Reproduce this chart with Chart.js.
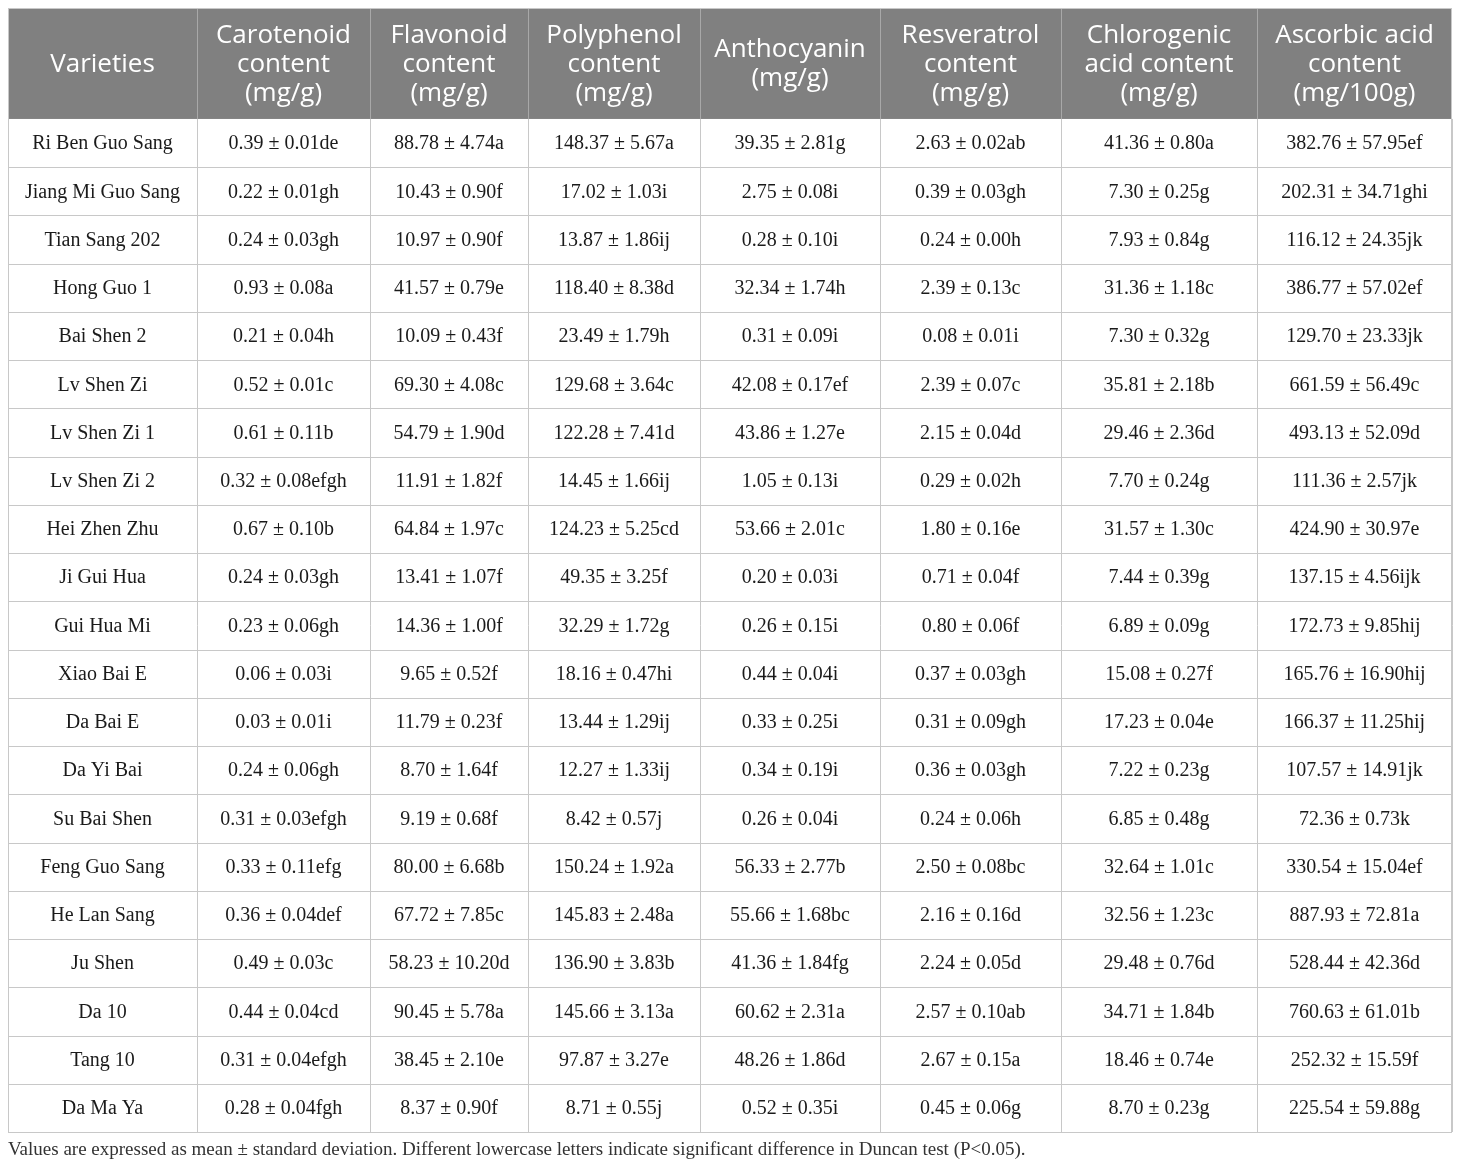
<!DOCTYPE html>
<html>
<head>
<meta charset="utf-8">
<script src="https://cdn.jsdelivr.net/npm/chart.js@4.4.1/dist/chart.umd.min.js"></script>
<style>
  html, body { margin: 0; padding: 0; background: #ffffff; }
  #wrap { width: 1460px; height: 1169px; position: relative; }
</style>
</head>
<body>
<div id="wrap"><canvas id="c"></canvas></div>
<script>
// ---------- DATA ----------
const varieties = ["Ri Ben Guo Sang","Jiang Mi Guo Sang","Tian Sang 202","Hong Guo 1","Bai Shen 2","Lv Shen Zi","Lv Shen Zi 1","Lv Shen Zi 2","Hei Zhen Zhu","Ji Gui Hua","Gui Hua Mi","Xiao Bai E","Da Bai E","Da Yi Bai","Su Bai Shen","Feng Guo Sang","He Lan Sang","Ju Shen","Da 10","Tang 10","Da Ma Ya"];

const headerVarieties = ["Varieties"];
const headerCarotenoid = ["Carotenoid","content","(mg/g)"];
const headerFlavonoid = ["Flavonoid","content","(mg/g)"];
const headerPolyphenol = ["Polyphenol","content","(mg/g)"];
const headerAnthocyanin = ["Anthocyanin","(mg/g)"];
const headerResveratrol = ["Resveratrol","content","(mg/g)"];
const headerChlorogenic = ["Chlorogenic","acid content","(mg/g)"];
const headerAscorbic = ["Ascorbic acid","content","(mg/100g)"];

const carotenoidMean = [0.39,0.22,0.24,0.93,0.21,0.52,0.61,0.32,0.67,0.24,0.23,0.06,0.03,0.24,0.31,0.33,0.36,0.49,0.44,0.31,0.28];
const carotenoidSD   = [0.01,0.01,0.03,0.08,0.04,0.01,0.11,0.08,0.10,0.03,0.06,0.03,0.01,0.06,0.03,0.11,0.04,0.03,0.04,0.04,0.04];
const carotenoidSig  = ["de","gh","gh","a","h","c","b","efgh","b","gh","gh","i","i","gh","efgh","efg","def","c","cd","efgh","fgh"];

const flavonoidMean = [88.78,10.43,10.97,41.57,10.09,69.30,54.79,11.91,64.84,13.41,14.36,9.65,11.79,8.70,9.19,80.00,67.72,58.23,90.45,38.45,8.37];
const flavonoidSD   = [4.74,0.90,0.90,0.79,0.43,4.08,1.90,1.82,1.97,1.07,1.00,0.52,0.23,1.64,0.68,6.68,7.85,10.20,5.78,2.10,0.90];
const flavonoidSig  = ["a","f","f","e","f","c","d","f","c","f","f","f","f","f","f","b","c","d","a","e","f"];

const polyphenolMean = [148.37,17.02,13.87,118.40,23.49,129.68,122.28,14.45,124.23,49.35,32.29,18.16,13.44,12.27,8.42,150.24,145.83,136.90,145.66,97.87,8.71];
const polyphenolSD   = [5.67,1.03,1.86,8.38,1.79,3.64,7.41,1.66,5.25,3.25,1.72,0.47,1.29,1.33,0.57,1.92,2.48,3.83,3.13,3.27,0.55];
const polyphenolSig  = ["a","i","ij","d","h","c","d","ij","cd","f","g","hi","ij","ij","j","a","a","b","a","e","j"];

const anthocyaninMean = [39.35,2.75,0.28,32.34,0.31,42.08,43.86,1.05,53.66,0.20,0.26,0.44,0.33,0.34,0.26,56.33,55.66,41.36,60.62,48.26,0.52];
const anthocyaninSD   = [2.81,0.08,0.10,1.74,0.09,0.17,1.27,0.13,2.01,0.03,0.15,0.04,0.25,0.19,0.04,2.77,1.68,1.84,2.31,1.86,0.35];
const anthocyaninSig  = ["g","i","i","h","i","ef","e","i","c","i","i","i","i","i","i","b","bc","fg","a","d","i"];

const resveratrolMean = [2.63,0.39,0.24,2.39,0.08,2.39,2.15,0.29,1.80,0.71,0.80,0.37,0.31,0.36,0.24,2.50,2.16,2.24,2.57,2.67,0.45];
const resveratrolSD   = [0.02,0.03,0.00,0.13,0.01,0.07,0.04,0.02,0.16,0.04,0.06,0.03,0.09,0.03,0.06,0.08,0.16,0.05,0.10,0.15,0.06];
const resveratrolSig  = ["ab","gh","h","c","i","c","d","h","e","f","f","gh","gh","gh","h","bc","d","d","ab","a","g"];

const chlorogenicMean = [41.36,7.30,7.93,31.36,7.30,35.81,29.46,7.70,31.57,7.44,6.89,15.08,17.23,7.22,6.85,32.64,32.56,29.48,34.71,18.46,8.70];
const chlorogenicSD   = [0.80,0.25,0.84,1.18,0.32,2.18,2.36,0.24,1.30,0.39,0.09,0.27,0.04,0.23,0.48,1.01,1.23,0.76,1.84,0.74,0.23];
const chlorogenicSig  = ["a","g","g","c","g","b","d","g","c","g","g","f","e","g","g","c","c","d","b","e","g"];

const ascorbicMean = [382.76,202.31,116.12,386.77,129.70,661.59,493.13,111.36,424.90,137.15,172.73,165.76,166.37,107.57,72.36,330.54,887.93,528.44,760.63,252.32,225.54];
const ascorbicSD   = [57.95,34.71,24.35,57.02,23.33,56.49,52.09,2.57,30.97,4.56,9.85,16.90,11.25,14.91,0.73,15.04,72.81,42.36,61.01,15.59,59.88];
const ascorbicSig  = ["ef","ghi","jk","ef","jk","c","d","jk","e","ijk","hij","hij","hij","jk","k","ef","a","d","b","f","g"];

const footnote = "Values are expressed as mean \u00b1 standard deviation. Different lowercase letters indicate significant difference in Duncan test (P<0.05).";

// ---------- LAYOUT (not data) ----------
const colEdges = [0, 189, 362, 520, 692, 872, 1053, 1249, 1444]; // x-scale units
const headerRows = 2.3; // header height in row units

const columns = [
  { header: headerCarotenoid, mean: carotenoidMean, sd: carotenoidSD, sig: carotenoidSig },
  { header: headerFlavonoid, mean: flavonoidMean, sd: flavonoidSD, sig: flavonoidSig },
  { header: headerPolyphenol, mean: polyphenolMean, sd: polyphenolSD, sig: polyphenolSig },
  { header: headerAnthocyanin, mean: anthocyaninMean, sd: anthocyaninSD, sig: anthocyaninSig },
  { header: headerResveratrol, mean: resveratrolMean, sd: resveratrolSD, sig: resveratrolSig },
  { header: headerChlorogenic, mean: chlorogenicMean, sd: chlorogenicSD, sig: chlorogenicSig },
  { header: headerAscorbic, mean: ascorbicMean, sd: ascorbicSD, sig: ascorbicSig }
];

const tablePlugin = {
  id: 'tablePlugin',
  afterDraw(chart) {
    const ctx = chart.ctx;
    const xs = chart.scales.x, ys = chart.scales.y;
    const X = v => xs.getPixelForValue(v);
    const Y = v => ys.getPixelForValue(v);
    const nRows = varieties.length;
    const left = X(colEdges[0]), right = X(colEdges[colEdges.length - 1]);
    const top = Y(0), hdrBottom = Y(headerRows), bottom = Y(headerRows + nRows);
    ctx.save();

    // header background
    ctx.fillStyle = '#808080';
    ctx.fillRect(left, top, right - left, hdrBottom - top);

    // header text
    const headers = [headerVarieties].concat(columns.map(c => c.header));
    ctx.fillStyle = '#ffffff';
    ctx.font = '26px "Open Sans", sans-serif';
    ctx.textAlign = 'center';
    ctx.textBaseline = 'middle';
    const lh = 29;
    const hc = (top + hdrBottom) / 2 + 1;
    headers.forEach((lines, i) => {
      const cx = (X(colEdges[i]) + X(colEdges[i + 1])) / 2;
      const start = hc - (lines.length - 1) * lh / 2;
      lines.forEach((t, k) => ctx.fillText(t, cx, start + k * lh));
    });

    // header separators
    ctx.strokeStyle = '#a8a8a8';
    ctx.lineWidth = 1;
    for (let i = 1; i < colEdges.length - 1; i++) {
      const x = Math.round(X(colEdges[i])) + 0.5;
      ctx.beginPath(); ctx.moveTo(x, top); ctx.lineTo(x, hdrBottom); ctx.stroke();
    }

    // body text
    ctx.fillStyle = '#1a1a1a';
    ctx.font = '20px "Liberation Serif", "Times New Roman", serif';
    for (let r = 0; r < nRows; r++) {
      const cy = (Y(headerRows + r) + Y(headerRows + r + 1)) / 2 + 1;
      ctx.fillText(varieties[r], (X(colEdges[0]) + X(colEdges[1])) / 2, cy);
      columns.forEach((c, j) => {
        const cx = (X(colEdges[j + 1]) + X(colEdges[j + 2])) / 2;
        const txt = c.mean[r].toFixed(2) + ' \u00b1 ' + c.sd[r].toFixed(2) + c.sig[r];
        ctx.fillText(txt, cx, cy);
      });
    }

    // body grid
    ctx.strokeStyle = '#c8c8c8';
    for (let r = 1; r <= nRows; r++) {
      const y = Math.round(Y(headerRows + r)) + 0.5;
      ctx.beginPath(); ctx.moveTo(left, y); ctx.lineTo(right, y); ctx.stroke();
    }
    for (let i = 0; i < colEdges.length; i++) {
      const x = Math.round(X(colEdges[i])) + 0.5;
      ctx.beginPath(); ctx.moveTo(x, hdrBottom); ctx.lineTo(x, bottom); ctx.stroke();
    }
    // outer border
    ctx.strokeStyle = '#c8c8c8';
    ctx.strokeRect(Math.round(left) + 0.5, Math.round(top) + 0.5, Math.round(right - left) - 1, Math.round(bottom - top));

    // footnote
    ctx.fillStyle = '#333333';
    ctx.font = '19px "Liberation Serif", "Times New Roman", serif';
    ctx.textAlign = 'left';
    ctx.fillText(footnote, left, bottom + 18);
    ctx.restore();
  }
};

new Chart(document.getElementById('c'), {
  type: 'scatter',
  data: {
    datasets: [{
      label: 'rows',
      data: varieties.map((v, i) => ({ x: colEdges[0], y: headerRows + i + 0.5 })),
      pointRadius: 0,
      showLine: false
    }]
  },
  options: {
    responsive: true,
    maintainAspectRatio: false,
    animation: false,
    events: [],
    layout: { padding: { left: 8, top: 8, right: 8, bottom: 37 } },
    plugins: { legend: { display: false }, tooltip: { enabled: false } },
    scales: {
      x: { type: 'linear', min: colEdges[0], max: colEdges[colEdges.length - 1], display: false },
      y: { type: 'linear', reverse: true, min: 0, max: headerRows + varieties.length, display: false }
    }
  },
  plugins: [tablePlugin]
});
</script>
</body>
</html>
